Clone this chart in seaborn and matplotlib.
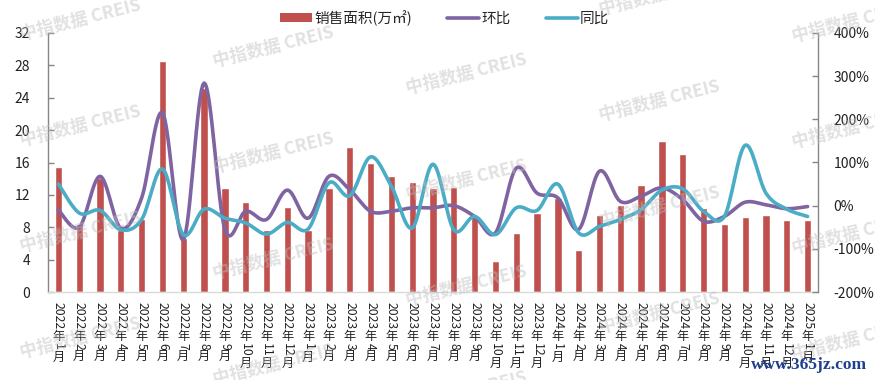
import numpy as np
import pandas as pd
import matplotlib
matplotlib.use("Agg")
import matplotlib.pyplot as plt
from matplotlib.font_manager import FontProperties
from matplotlib.lines import Line2D
from matplotlib.patches import Patch
from matplotlib.ticker import FuncFormatter, MultipleLocator
import seaborn as sns

# ---------------- data ----------------
years = ["2022"] * 12 + ["2023"] * 12 + ["2024"] * 12 + ["2025"]
months = [str(m) for m in range(1, 13)] * 3 + ["1"]
labels = [f"{y}年{m}月" for y, m in zip(years, months)]

sales = [15.4, 8.4, 14.1, 7.7, 9.0, 28.5, 6.7, 25.2, 12.9, 11.1, 7.7, 10.5,
         7.7, 12.8, 17.9, 16.0, 14.3, 13.6, 12.8, 13.0, 9.4, 3.8, 7.3, 9.7,
         11.6, 5.2, 9.5, 10.7, 13.2, 18.7, 17.0, 10.4, 8.4, 9.3, 9.5, 8.9, 8.9]

mom = [-10, -50, 68, -52, 18, 215, -79, 284, -55, -13, -32, 36,
       -29, 68, 37, -13, -13, -5, -5, 0, -25, -63, 87, 29,
       18, -55, 80, 10, 22, 41, 14, -36, -25, 8, 2, -7, -2]

yoy = [50, -17, -11, -56, -32, 85, -67, -8, -29, -40, -66, -39,
       -54, 53, 23, 113, 45, -52, 96, -56, -25, -67, -5, -11,
       50, -63, -48, -32, -9, 36, 39, -13, -25, 140, 29, -8, -25]

legend_labels = ["销售面积(万㎡)", "环比", "同比"]
watermark = "中指数据 CREIS"
site_mark = "www.365jz.com"

BAR_C = "#C0504D"
MOM_C = "#8064A2"
YOY_C = "#4BACC6"

# ---------------- style ----------------
sns.set_theme(style="white")
FAM = ["Noto Sans CJK SC", "DejaVu Sans"]
plt.rcParams["font.family"] = FAM
plt.rcParams["axes.unicode_minus"] = False

W, H, DPI = 875, 380, 100
fig = plt.figure(figsize=(W / DPI, H / DPI), dpi=DPI)
ax = fig.add_axes([0, 0, 1, 1])
fig.subplots_adjust(left=48 / W, right=818 / W, top=1 - 33 / H, bottom=1 - 292 / H)
ax.set_position([48 / W, 1 - 292 / H, (818 - 48) / W, (292 - 33) / H])

n = len(labels)
df = pd.DataFrame({"x": labels, "sales": sales})
sns.barplot(data=df, x="x", y="sales", color=BAR_C, width=0.35, ax=ax,
            saturation=1, order=labels, zorder=2)
ax.set_xlim(-0.5, n - 0.5)
ax.set_ylim(0, 32)
ax.yaxis.set_major_locator(MultipleLocator(4))
ax.set_xlabel("")
ax.set_ylabel("")


# smooth curve (Excel-like cardinal spline) for display
def smooth(vals, k=16):
    p = np.asarray(vals, dtype=float)
    xs = np.arange(len(p), dtype=float)
    P = np.concatenate([[p[0]], p, [p[-1]]])
    X = np.concatenate([[xs[0]], xs, [xs[-1]]])
    ox, oy = [], []
    for i in range(1, len(P) - 2):
        x0, x1, x2, x3 = X[i - 1], X[i], X[i + 1], X[i + 2]
        y0, y1, y2, y3 = P[i - 1], P[i], P[i + 1], P[i + 2]
        c1x, c1y = x1 + (x2 - x0) / 6, y1 + (y2 - y0) / 6
        c2x, c2y = x2 - (x3 - x1) / 6, y2 - (y3 - y1) / 6
        t = np.linspace(0, 1, k, endpoint=False)
        b0, b1, b2, b3 = (1 - t) ** 3, 3 * t * (1 - t) ** 2, 3 * t ** 2 * (1 - t), t ** 3
        ox.extend(b0 * x1 + b1 * c1x + b2 * c2x + b3 * x2)
        oy.extend(b0 * y1 + b1 * c1y + b2 * c2y + b3 * y2)
    ox.append(xs[-1])
    oy.append(p[-1])
    return np.array(ox), np.array(oy)


ax2 = ax.twinx()
ax2.set_ylim(-200, 400)
ax2.yaxis.set_major_locator(MultipleLocator(100))
ax2.yaxis.set_major_formatter(FuncFormatter(lambda v, _: f"{int(v)}%"))
for vals, col in ((mom, MOM_C), (yoy, YOY_C)):
    sx, sy = smooth(vals)
    sns.lineplot(x=sx, y=sy, color=col, linewidth=2.6, ax=ax2, sort=False,
                 estimator=None, solid_capstyle="round")
ax2.set_xlim(-0.5, n - 0.5)
ax2.set_ylabel("")

# ---------------- axes styling ----------------
for s in ("top", "right"):
    ax.spines[s].set_visible(False)
ax.spines["left"].set_color("#868686")
ax.spines["bottom"].set_color("#D9D9D9")
for s in ("left", "top", "bottom"):
    ax2.spines[s].set_visible(False)
ax2.spines["right"].set_color("#868686")
for a in (ax, ax2):
    for sp in a.spines.values():
        sp.set_linewidth(1.0)

ax.tick_params(axis="y", direction="in", length=4, width=1, color="#868686",
               labelsize=10, pad=13, labelcolor="#222222")
ax2.tick_params(axis="y", direction="in", length=4, width=1, color="#868686",
                labelsize=10, pad=11, labelcolor="#222222")
ax.set_xticks(np.arange(n + 1) - 0.5, minor=True)
ax.tick_params(axis="x", which="minor", direction="in", length=3, color="#D9D9D9")
ax.tick_params(axis="x", which="major", length=0)
ax.set_xticklabels([])
ax.grid(False)
ax2.grid(False)

# ---------------- category labels (digits rotated, CJK upright) ----------------
fs = 8.8
fp = FontProperties(family=FAM, size=fs)
fig.canvas.draw()
renderer = fig.canvas.get_renderer()


def wpt(s):
    w, h, d = renderer.get_text_width_height_descent(s, fp, ismath=False)
    return w * 72 / fig.dpi


for i, (yv, mv) in enumerate(zip(years, months)):
    off = -7.5
    for piece, up in ((yv, False), ("年", True), (mv, False), ("月", True)):
        ax.annotate(piece, xy=(i, 0), xycoords=("data", "axes fraction"),
                    xytext=(0, off), textcoords="offset points",
                    rotation=0 if up else -90, ha="center", va="top",
                    fontproperties=fp, color="#222222", annotation_clip=False)
        off -= (fs * 1.02) if up else wpt(piece) + 0.6

# ---------------- legend ----------------
handles = [Patch(facecolor=BAR_C, edgecolor="none"),
           Line2D([0], [0], color=MOM_C, lw=2.6),
           Line2D([0], [0], color=YOY_C, lw=2.6)]
fig.legend(handles, legend_labels, loc="center", bbox_to_anchor=(0.508, 1 - 18 / H),
           ncol=3, frameon=False, fontsize=10.5, handlelength=2.2, handleheight=0.6,
           handletextpad=0.15, columnspacing=2.4, borderaxespad=0)

# ---------------- watermarks ----------------
xcs = [80, 273, 466, 659, 852]
for k, xc in enumerate(xcs):
    for r in range(-1, 4):
        yc = 20 + 27 * k + 106 * r
        if -20 < yc < H + 20:
            fig.text(xc / W, 1 - yc / H, watermark, rotation=14, ha="center", va="center",
                     fontsize=12.5, fontweight="bold", color="#BDBDBD", alpha=0.45,
                     family=FAM, zorder=10)
fig.text(867 / W, 1 - 365 / H, site_mark, ha="right", va="center", fontsize=12.5,
         family=["Liberation Serif", "DejaVu Serif"], fontweight="bold", color="#1F3F8F",
         zorder=11)

fig.savefig("out.png", dpi=DPI)
